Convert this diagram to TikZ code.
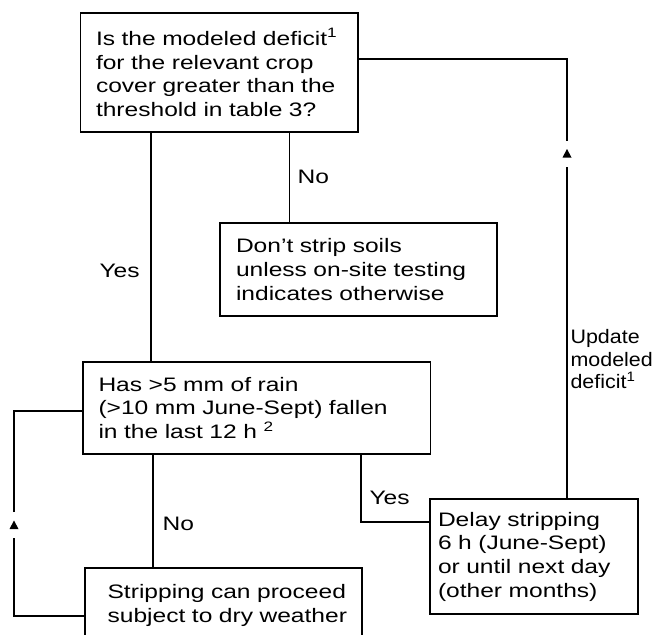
\documentclass[tikz,border=0pt]{standalone}
\usepackage{fontspec}
\setmainfont{Liberation Sans}[FakeStretch=1.26]
\newfontfamily\notefont{Liberation Sans}[FakeStretch=1.1]
\usepackage{tikz}

\begin{document}
\begin{tikzpicture}[x=1pt,y=-1pt,line width=1.1pt,
  every node/.style={font=\fontsize{19.5}{23.7}\selectfont},
  box/.style={draw,outer sep=0pt,anchor=north west,inner xsep=0pt,inner ysep=0pt,align=left},
  lmargin/.style={execute at begin node={\leftskip=#1\relax}},
  lab/.style={anchor=base west,inner sep=0pt},
  tri/.style={inner sep=0pt,outer sep=0pt,minimum width=10pt,minimum height=26pt,
    path picture={\fill ([xshift=-4.5pt,yshift=-4pt]path picture bounding box.center)
      -- ++(9pt,0pt) -- ++(-4.5pt,8.5pt) -- cycle;}}]
  \clip (0,0) rectangle (654,635);

  % boxes
  \node[box,lmargin=15.5pt,text width=277.5pt,minimum height=119pt] (query) at (80.5,13)
    {Is the modeled deficit\textsuperscript{1}\\for the relevant crop\\cover greater than the\\threshold in table 3?};
  \node[box,lmargin=16pt,text width=277pt,minimum height=93pt] (nostrip) at (220,223)
    {Don't strip soils\\unless on-site testing\\indicates otherwise};
  \node[box,lmargin=15.5pt,text width=347.5pt,minimum height=92pt] (rain) at (83,362)
    {Has >5 mm of rain\\(>10 mm June-Sept) fallen\\in the last 12 h \textsuperscript{2}};
  \node[box,lmargin=22.6pt,text width=277pt,minimum height=75pt] (strip) at (85,568)
    {Stripping can proceed\\subject to dry weather};
  \node[box,lmargin=8pt,text width=208pt,minimum height=115pt] (delay) at (430,499)
    {Delay stripping\\6 h (June-Sept)\\or until next day\\(other months)};

  \node[tri] (tri1) at (567,153.5) {};
  \node[tri] (tri2) at (14,525) {};

  % connectors
  \draw ([xshift=70.5pt]query.south west) -- ([xshift=70.5pt]query.south west |- rain.north);
  \draw ([xshift=209pt]query.south west) -- ([xshift=209pt]query.south west |- nostrip.north);
  \draw ([xshift=70pt]rain.south west) -- ([xshift=70pt]rain.south west |- strip.north);
  \draw ([xshift=278pt]rain.south west) |- ([yshift=-23pt]delay.north west);
  \draw ([xshift=137pt]delay.north west) -- (tri1);
  \draw (tri1) |- ([yshift=-46pt]query.north east);
  \draw ([yshift=-48pt]strip.north west) -| (tri2);
  \draw (tri2) |- ([yshift=-49pt]rain.north west);

  % labels
  \node[lab] (no1) at (297,183) {No};
  \node[lab] (yes1) at (99,277) {Yes};
  \node[lab] (no2) at (162,530) {No};
  \node[lab] (yes2) at (369,504) {Yes};
  \node[anchor=north west,inner sep=0pt,align=left,
    font=\notefont\fontsize{19.5}{22.5}\selectfont] (update) at (570,329)
    {Update\\modeled\\deficit\textsuperscript{1}};
\end{tikzpicture}
\end{document}
